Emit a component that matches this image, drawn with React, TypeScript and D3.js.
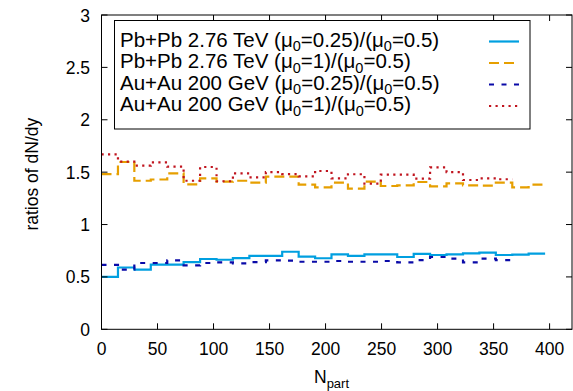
import React from "react";
import * as d3 from "d3";

// Histogram bin edges in N_part (shared by all four ratio curves)
const binEdges = [
  0, 14.7, 29.3, 44, 58.7, 73.3, 88, 102.7, 117.3, 132, 146.7, 161.3, 176, 190.7,
  205.3, 220, 234.7, 249.3, 264, 278.7, 293.3, 308, 322.7, 337.3, 352, 366.7, 381.3, 396,
];

// Pb+Pb 2.76 TeV (mu0=0.25)/(mu0=0.5)
const pbLow = [
  0.5, 0.59, 0.57, 0.617, 0.617, 0.642, 0.671, 0.664, 0.68, 0.7, 0.7, 0.74, 0.693, 0.678,
  0.715, 0.7, 0.716, 0.716, 0.69, 0.719, 0.709, 0.716, 0.725, 0.731, 0.709, 0.712, 0.722,
];
// Pb+Pb 2.76 TeV (mu0=1)/(mu0=0.5)
const pbHigh = [
  1.482, 1.597, 1.418, 1.43, 1.489, 1.384, 1.441, 1.41, 1.418, 1.4, 1.457, 1.457, 1.38, 1.355,
  1.4, 1.342, 1.41, 1.368, 1.374, 1.406, 1.365, 1.393, 1.374, 1.371, 1.4, 1.355, 1.38,
];
// Au+Au 200 GeV (mu0=0.25)/(mu0=0.5)
const auLow = [
  0.615, 0.57, 0.633, 0.633, 0.658, 0.611, 0.633, 0.639, 0.63, 0.642, 0.658, 0.655, 0.645,
  0.645, 0.652, 0.645, 0.645, 0.652, 0.639, 0.661, 0.69, 0.674, 0.639, 0.674, 0.661,
];
// Au+Au 200 GeV (mu0=1)/(mu0=0.5)
const auHigh = [
  1.67, 1.6, 1.562, 1.594, 1.552, 1.418, 1.549, 1.413, 1.489, 1.451, 1.5, 1.482, 1.46, 1.511,
  1.44, 1.48, 1.39, 1.476, 1.476, 1.438, 1.546, 1.5, 1.425, 1.441, 1.432,
];

const xTicks = [0, 50, 100, 150, 200, 250, 300, 350, 400];
const yTicks = [0, 0.5, 1, 1.5, 2, 2.5, 3];
const yTickLabels = ["0", "0.5", "1", "1.5", "2", "2.5", "3"];

const W = 573;
const H = 391;
const left = 101.5;
const right = 572;
const top = 15;
const bottom = 329.3;

const FONT = "'Liberation Sans', Arial, Helvetica, sans-serif";

type Series = {
  values: number[];
  color: string;
  width: number;
  dash?: string;
  pre: string;
  mid: string;
  post: string;
};

const series: Series[] = [
  { values: pbLow, color: "#009fe0", width: 2.2, pre: "Pb+Pb 2.76 TeV (μ", mid: "=0.25)/(μ", post: "=0.5)" },
  { values: pbHigh, color: "#e69f00", width: 2.2, dash: "10 5", pre: "Pb+Pb 2.76 TeV (μ", mid: "=1)/(μ", post: "=0.5)" },
  { values: auLow, color: "#0a0aa8", width: 2.2, dash: "5 7.5", pre: "Au+Au 200 GeV (μ", mid: "=0.25)/(μ", post: "=0.5)" },
  { values: auHigh, color: "#c0141e", width: 2.2, dash: "2.2 4.3", pre: "Au+Au 200 GeV (μ", mid: "=1)/(μ", post: "=0.5)" },
];

export default function App() {
  const x = d3.scaleLinear().domain([0, 420]).range([left, right]);
  const y = d3.scaleLinear().domain([0, 3]).range([bottom, top]);

  const stepLine = d3
    .line<[number, number]>()
    .x((d) => x(d[0]))
    .y((d) => y(d[1]))
    .curve(d3.curveStepAfter);

  const pathFor = (vals: number[]) => {
    const pts: [number, number][] = vals.map((v, i) => [binEdges[i], v]);
    pts.push([binEdges[vals.length], vals[vals.length - 1]]);
    return stepLine(pts) ?? "";
  };

  const tickLen = 6;
  const legendRows = [46.5, 68, 89.5, 111];

  return (
    <svg
      width={W}
      height={H}
      style={{ position: "absolute", left: 0, top: 0, background: "#fff" }}
      fontFamily={FONT}
    >
      <rect x={0} y={0} width={W} height={H} fill="#fff" />

      {/* curves */}
      <g fill="none">
        {series.map((s, i) => (
          <path
            key={i}
            d={pathFor(s.values)}
            stroke={s.color}
            strokeWidth={s.width}
            strokeDasharray={s.dash}
            strokeLinejoin="miter"
          />
        ))}
      </g>

      {/* frame and mirrored ticks */}
      <g stroke="#000" strokeWidth={1} fill="none">
        {xTicks.map((t) => (
          <g key={"xt" + t}>
            <line x1={x(t)} x2={x(t)} y1={bottom} y2={bottom - tickLen} />
            <line x1={x(t)} x2={x(t)} y1={top} y2={top + tickLen} />
          </g>
        ))}
        {yTicks.map((t) => (
          <g key={"yt" + t}>
            <line x1={left} x2={left + tickLen} y1={y(t)} y2={y(t)} />
            <line x1={right} x2={right - tickLen} y1={y(t)} y2={y(t)} />
          </g>
        ))}
        <rect x={left} y={top} width={right - left} height={bottom - top} />
      </g>

      {/* tick labels */}
      <g fontSize={17.5} fill="#000">
        {xTicks.map((t) => (
          <text key={"xl" + t} x={x(t)} y={355} textAnchor="middle">
            {t}
          </text>
        ))}
        {yTicks.map((t, i) => (
          <text key={"yl" + t} x={90} y={y(t) + 6.5} textAnchor="end">
            {yTickLabels[i]}
          </text>
        ))}
      </g>

      {/* axis titles */}
      <text
        fontSize={17.5}
        textAnchor="middle"
        transform={`translate(38,${(top + bottom) / 2 + 2}) rotate(-90)`}
      >
        ratios of dN/dy
      </text>
      <text fontSize={17.5} x={314} y={383}>
        N
        <tspan fontSize={13} dy={5}>part</tspan>
      </text>

      {/* legend */}
      <rect x={114.5} y={20.5} width={415.5} height={108.5} fill="#fff" stroke="#000" strokeWidth={1} />
      {series.map((s, i) => (
        <g key={"lg" + i}>
          <text x={120} y={legendRows[i]} fontSize={20.5} fill="#000">
            {s.pre}
            <tspan fontSize={14.5} dy={4.5}>0</tspan>
            <tspan dy={-4.5}>{s.mid}</tspan>
            <tspan fontSize={14.5} dy={4.5}>0</tspan>
            <tspan dy={-4.5}>{s.post}</tspan>
          </text>
          <line
            x1={489}
            x2={519}
            y1={legendRows[i] - 5}
            y2={legendRows[i] - 5}
            stroke={s.color}
            strokeWidth={s.width}
            strokeDasharray={s.dash}
          />
        </g>
      ))}
    </svg>
  );
}
